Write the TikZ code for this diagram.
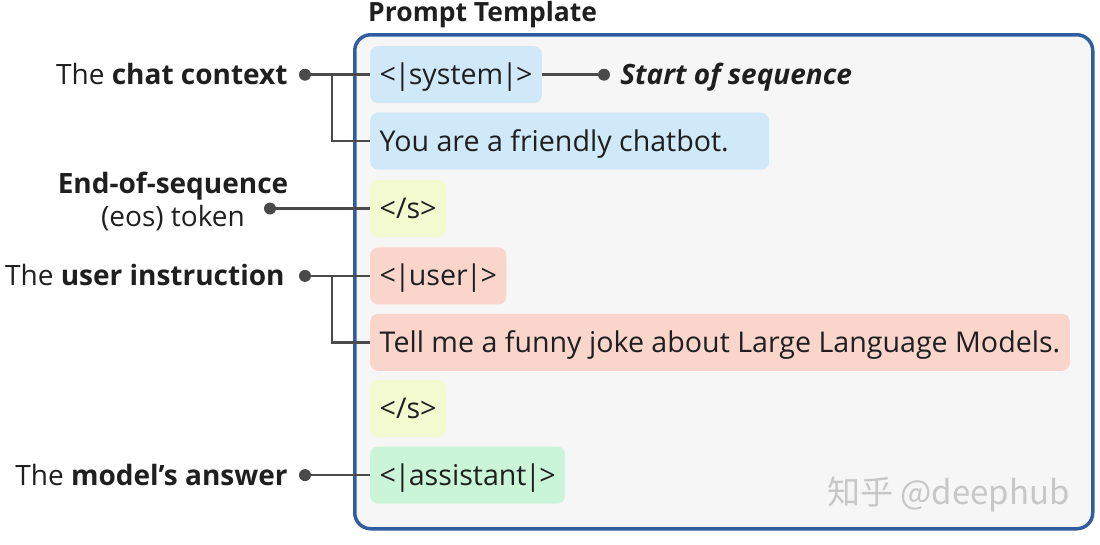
\documentclass[tikz,border=0pt]{standalone}
\usepackage{fontspec}
\setmainfont{Open Sans}
\newfontfamily\cjk{Noto Sans CJK SC}
\usetikzlibrary{positioning}

\definecolor{frameblue}{HTML}{2F5D9F}
\definecolor{framebg}{HTML}{F6F6F6}
\definecolor{sysblue}{HTML}{CFE9F9}
\definecolor{eosyellow}{HTML}{F3FAD0}
\definecolor{usersalmon}{HTML}{FAD5CB}
\definecolor{ansgreen}{HTML}{CBF5D8}
\definecolor{wire}{HTML}{4A4A4A}
\definecolor{ink}{HTML}{1F1F1F}

\newcommand{\tbar}{\kern-1.5pt|\kern-1.5pt}

\tikzset{
  token/.style={rounded corners=8pt, minimum height=57pt, inner xsep=9.5pt,
    anchor=north west, text=ink, text height=20pt, text depth=0pt,
    font=\fontsize{28.6}{33}\selectfont},
  sysbox/.style={token, fill=sysblue},
  eosbox/.style={token, fill=eosyellow},
  userbox/.style={token, fill=usersalmon},
  ansbox/.style={token, fill=ansgreen},
  conn/.style={line width=2.5pt, draw=wire},
  dot/.style={circle, fill=wire, inner sep=0pt, minimum size=12pt},
  lbl/.style={inner sep=0pt, text=ink, text height=20pt, text depth=0pt,
    font=\fontsize{28}{33}\selectfont},
}

\begin{document}
\begin{tikzpicture}[x=1pt,y=-1pt]
\useasboundingbox (0,0) rectangle (1100,544);
% the template frame
\node[draw=frameblue, fill=framebg, line width=3.5pt, rounded corners=16pt,
  minimum width=738pt, minimum height=494pt, anchor=north west] (tmpl) at (353,33) {};
\node[inner sep=0pt, text=ink, font=\fontsize{26.5}{30}\selectfont\bfseries,
  above right=5pt and 15pt of tmpl.north west] (ttl) {Prompt Template};

% tokens
\node[sysbox] (sys) at (370,46) {<\tbar system\tbar>};
\node[sysbox, text width=380pt, align=flush left,
  below=9pt of sys.south west, anchor=north west] (friend) {You are a friendly chatbot.};
\node[eosbox, below=10pt of friend.south west, anchor=north west] (eosa) {</s>};
\node[userbox, below=10pt of eosa.south west, anchor=north west] (user) {<\tbar user\tbar>};
\node[userbox, below=9pt of user.south west, anchor=north west] (joke) {Tell me a funny joke about Large Language Models.};
\node[eosbox, below=9pt of joke.south west, anchor=north west] (eosb) {</s>};
\node[ansbox, below=9pt of eosb.south west, anchor=north west] (ans) {<\tbar assistant\tbar>};

% dots and labels
\coordinate (lcol) at (305,0);
\coordinate (bcol) at (332,0);
\node[dot] (dctx) at (lcol |- sys.west) {};
\node[dot] (deos) at (270,0 |- eosa.west) {};
\node[dot] (dusr) at (lcol |- user.west) {};
\node[dot] (dans) at (lcol |- ans.west) {};
\node[dot] (dsos) at (604,0 |- sys.east) {};

\node[lbl, left=11pt of dctx] (lctx) {The \textbf{chat context}};
\node[lbl, left=14pt of dusr] (lusr) {The \textbf{user instruction}};
\node[lbl, left=11pt of dans] (lans) {The \textbf{model’s answer}};
\node[lbl, right=10pt of dsos] (lsos) {\bfseries\itshape Start of sequence};
\node[inner sep=0pt, text=ink, align=center, font=\fontsize{28}{33}\selectfont]
  (leos) at (173,201) {\textbf{End-of-sequence}\\(eos) token};

% connectors
\draw[conn] (dctx) -- (sys.west);
\draw[conn] (bcol |- sys.west) |- (friend.west);
\draw[conn] (sys.east) -- (dsos);
\draw[conn] (deos) -- (eosa.west);
\draw[conn] (dusr) -- (user.west);
\draw[conn] (bcol |- user.west) |- (joke.west);
\draw[conn] (dans) -- (ans.west);

% watermark
\node[inner sep=0pt, anchor=south east, text=black!22, font=\cjk\fontsize{33}{36}\selectfont]
  (wm) at (1070,512) {知乎 @deephub};
\end{tikzpicture}
\end{document}
